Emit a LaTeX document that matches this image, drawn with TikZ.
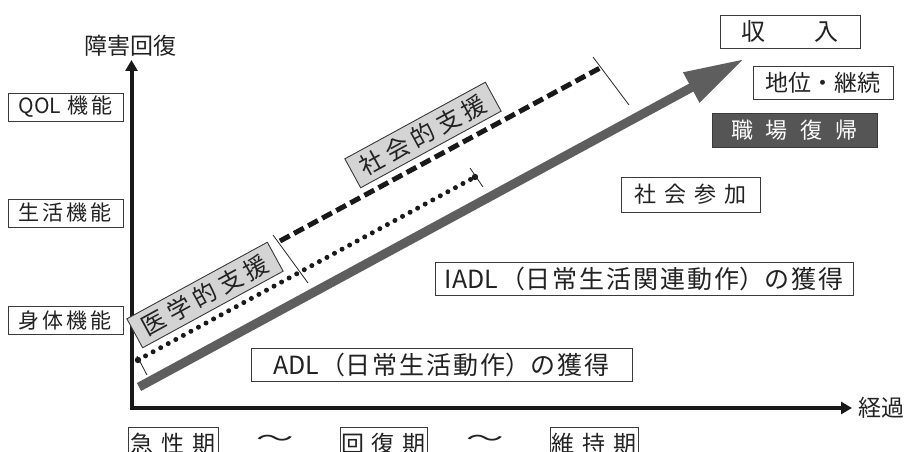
\documentclass[tikz,border=0pt]{standalone}
\usepackage{fontspec}
\setmainfont{Noto Sans CJK JP}
\usetikzlibrary{arrows.meta}
\definecolor{arrowgray}{HTML}{5E5E5E}
\definecolor{labelgray}{HTML}{D4D4D4}
\definecolor{darkbox}{HTML}{555555}
\definecolor{boxline}{HTML}{3A3A3A}
\definecolor{ink}{HTML}{222222}
\newcommand\kgap[1]{\hspace{#1pt}}
\tikzset{
  lbox/.style={draw=boxline, line width=0.9pt, inner sep=0pt, minimum width=115pt, minimum height=28pt, text=ink, font=\fontsize{21pt}{24pt}\selectfont},
  rbox/.style={draw=boxline, line width=0.9pt, inner sep=0pt, minimum height=34pt, text=ink},
  slabel/.style={draw=boxline, fill=labelgray, line width=0.9pt, inner sep=0pt, minimum width=160pt, minimum height=33pt, rotate=28.6, text=ink, font=\fontsize{24pt}{26pt}\selectfont},
  ticker/.style={line width=0.8pt, draw=black!85},
  axislab/.style={font=\fontsize{23pt}{26pt}\selectfont, inner sep=0pt, text=ink},
  axisline/.style={line width=4pt, draw=black!90, line join=miter, {Triangle[length=11pt,width=12pt]}-{Triangle[length=11pt,width=12pt]}},
  tilde/.style={font=\fontsize{22pt}{26pt}\selectfont, xscale=1.7, inner sep=0pt, text=ink},
}
\begin{document}
\begin{tikzpicture}[x=1pt,y=-1pt]
\useasboundingbox (0,0) rectangle (905,452);
\clip (0,0) rectangle (905,452);
\fill[white] (0,0) rectangle (905,452);

% axes
\coordinate (ytop) at (131.5,60);
\coordinate (orig) at (131.5,408);
\coordinate (xend) at (852,408);
\draw[axisline] (ytop) -- (orig) -- (xend);
\node[axislab] (ylab) at (130,46) {障害回復};
\node[axislab] (xlab) at (881,408) {経過};

% left labels
\node[lbox] (qol) at (65.5,107) {QOL\kgap{6}機\kgap{3}能};
\node[lbox] (seikatsu) at (65.5,213) {生\kgap{3}活\kgap{3}機\kgap{3}能};
\node[lbox] (shintai) at (65.5,320.5) {身\kgap{3}体\kgap{3}機\kgap{3}能};

% main gray arrow
\coordinate (gs) at (139,387);
\coordinate (ge) at (744,59);
\draw[line width=9pt, arrowgray, -{Triangle[length=60pt,width=32pt]}] (gs) -- (ge);

% dashed line (social support)
\coordinate (ds) at (280,241);
\coordinate (de) at (600,68);
\draw[line width=5pt, black!90, dash pattern=on 11pt off 5pt] (ds) -- (de);

% dotted line (medical support)
\coordinate (ms) at (138,360);
\coordinate (me) at (475,177);
\draw[line width=5pt, black!90, line cap=round, dash pattern=on 0pt off 8.6pt] (ms) -- (me);
\fill[black!90] (ms) circle (3.2pt);
\fill[black!90] (me) circle (3.2pt);

% ticks
\coordinate (t1a) at (137,356);
\coordinate (t1b) at (147,375);
\draw[ticker] (t1a) -- (t1b);
\coordinate (t2a) at (273,235);
\coordinate (t2b) at (308,283);
\draw[ticker] (t2a) -- (t2b);
\coordinate (t3a) at (470,168);
\coordinate (t3b) at (483,187);
\draw[ticker] (t3a) -- (t3b);
\coordinate (t4a) at (593,57);
\coordinate (t4b) at (629,105);
\draw[ticker] (t4a) -- (t4b);

% rotated support labels
\node[slabel] (med) at (205,295) {医\kgap{5}学\kgap{5}的\kgap{5}支\kgap{5}援};
\node[slabel] (soc) at (423,135) {社\kgap{5}会\kgap{5}的\kgap{5}支\kgap{5}援};

% right side boxes
\node[rbox, minimum width=140pt, minimum height=33pt, font=\fontsize{24pt}{26pt}\selectfont] (income) at (790,31.5) {収\kgap{49}入};
\node[rbox, minimum width=140pt, minimum height=33pt, font=\fontsize{23pt}{26pt}\selectfont] (status) at (823,82.5) {地位・継続};
\node[rbox, fill=darkbox, text=white, minimum width=165pt, minimum height=34pt, font=\fontsize{22pt}{26pt}\selectfont] (work) at (794.5,130) {職\kgap{13}場\kgap{13}復\kgap{13}帰};
\node[rbox, minimum width=139pt, minimum height=35pt, font=\fontsize{22pt}{26pt}\selectfont] (social) at (690.5,194.5) {社\kgap{8}会\kgap{8}参\kgap{8}加};
\node[rbox, minimum width=418pt, minimum height=33pt, font=\fontsize{25pt}{27pt}\selectfont] (iadl) at (644,278.5) {IADL\kgap{2}（日\kgap{2}常\kgap{2}生\kgap{2}活\kgap{2}関\kgap{2}連\kgap{2}動\kgap{2}作）の\kgap{2}獲\kgap{2}得};
\node[rbox, minimum width=381pt, minimum height=33pt, font=\fontsize{25pt}{27pt}\selectfont] (adl) at (441.5,364.5) {ADL\kgap{2}（日\kgap{2}常\kgap{2}生\kgap{2}活\kgap{2}動\kgap{2}作）の\kgap{2}獲\kgap{2}得};

% phase boxes (cut at the bottom edge)
\node[rbox, minimum width=90pt, minimum height=34pt, font=\fontsize{23pt}{26pt}\selectfont] (acute) at (173,444) {急\kgap{8}性\kgap{8}期};
\node[tilde] (til1) at (275,441) {～};
\node[rbox, minimum width=87pt, minimum height=34pt, font=\fontsize{23pt}{26pt}\selectfont] (recov) at (383.5,444) {回\kgap{8}復\kgap{8}期};
\node[tilde] (til2) at (485,441) {～};
\node[rbox, minimum width=88pt, minimum height=34pt, font=\fontsize{23pt}{26pt}\selectfont] (maint) at (594,444) {維\kgap{8}持\kgap{8}期};
\end{tikzpicture}
\end{document}
